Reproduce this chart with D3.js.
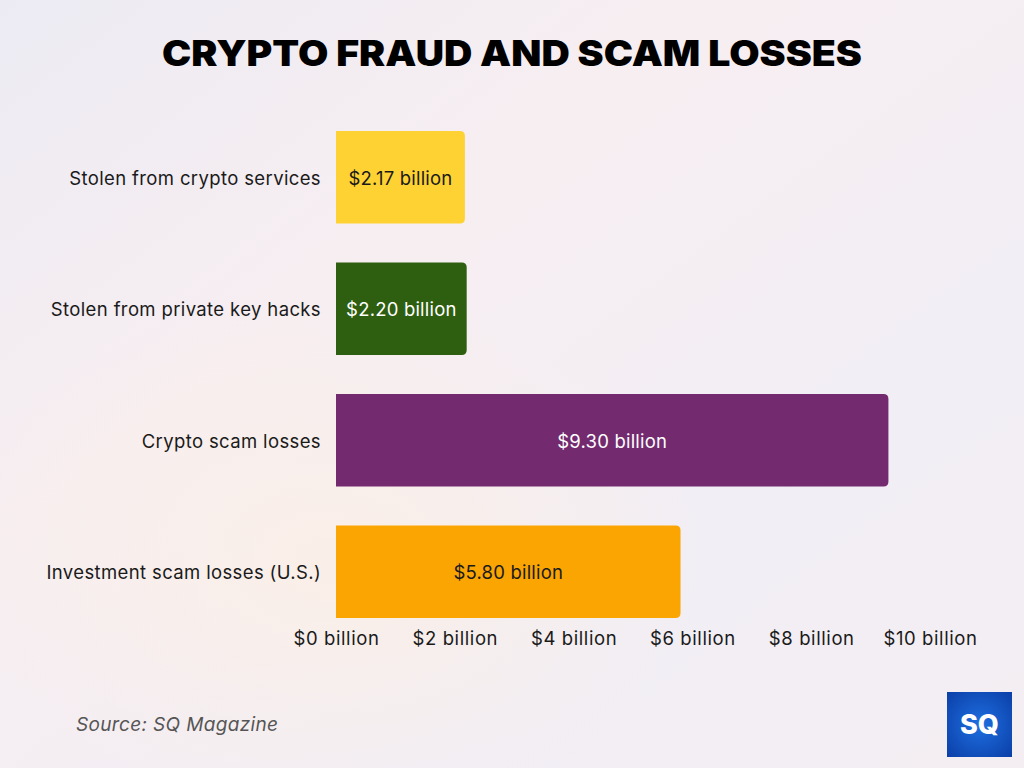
<!DOCTYPE html>
<html><head><meta charset="utf-8">
<script src="https://cdn.jsdelivr.net/npm/d3@7"></script>
<style>html,body{margin:0;padding:0;}svg{display:block;}</style>
</head><body>
<script>
const categories = ["Stolen from crypto services","Stolen from private key hacks","Crypto scam losses","Investment scam losses (U.S.)"];
const values = [2.17, 2.20, 9.30, 5.80];
const valueLabels = ["$2.17 billion","$2.20 billion","$9.30 billion","$5.80 billion"];
const colors = ["#FFD233","#2E5E10","#732A6E","#FBA502"];
const labelColors = ["#1a1a1a","#ffffff","#ffffff","#1a1a1a"];
const tickValues = [0,2,4,6,8,10];
const tickLabels = ["$0 billion","$2 billion","$4 billion","$6 billion","$8 billion","$10 billion"];

const W=1024,H=768;
const svg=d3.select("body").append("svg").attr("width",W).attr("height",H);
const defs=svg.append("defs");
const bg=defs.append("linearGradient").attr("id","bg").attr("x1","0").attr("y1","0").attr("x2","1").attr("y2","1");
bg.append("stop").attr("offset","0").attr("stop-color","#ECEBF3");
bg.append("stop").attr("offset","0.35").attr("stop-color","#F7EEF1");
bg.append("stop").attr("offset","0.7").attr("stop-color","#F1EEF5");
bg.append("stop").attr("offset","1").attr("stop-color","#F4EEF2");
svg.append("rect").attr("width",W).attr("height",H).attr("fill","url(#bg)");
const rg=defs.append("radialGradient").attr("id","peach").attr("cx","0.5").attr("cy","0.5").attr("r","0.5");
rg.append("stop").attr("offset","0").attr("stop-color","#FBEFE6").attr("stop-opacity",0.9);
rg.append("stop").attr("offset","1").attr("stop-color","#FBEFE6").attr("stop-opacity",0);
svg.append("ellipse").attr("cx",330).attr("cy",560).attr("rx",380).attr("ry",260).attr("fill","url(#peach)");

svg.append("text").attr("x",512).attr("y",66).attr("text-anchor","middle")
  .attr("font-family","Inter, Roboto, sans-serif").attr("font-weight",900).attr("font-size",35)
  .attr("fill","#000").attr("textLength",700).attr("lengthAdjust","spacingAndGlyphs")
  .text("CRYPTO FRAUD AND SCAM LOSSES");

const x=d3.scaleLinear().domain([0,10]).range([336,930]);
const y=d3.scaleBand().domain(categories).range([131,618]).paddingInner(39/132).paddingOuter(0);

const font="Inter, 'Open Sans', sans-serif";
const fs=18.5, ls="0.37px";
const r=5;
function barPath(x0,x1,y0,h){
  const rr=Math.min(r,(x1-x0));
  return `M${x0},${y0}H${x1-rr}Q${x1},${y0} ${x1},${y0+rr}V${y0+h-rr}Q${x1},${y0+h} ${x1-rr},${y0+h}H${x0}Z`;
}
const g=svg.append("g");
g.selectAll("path.bar").data(categories).join("path").attr("class","bar")
  .attr("d",(d,i)=>barPath(x(0),x(values[i]),y(d),y.bandwidth()))
  .attr("fill",(d,i)=>colors[i]);
g.selectAll("text.val").data(categories).join("text").attr("class","val")
  .attr("x",(d,i)=>(x(0)+x(values[i]))/2).attr("y",d=>y(d)+y.bandwidth()/2+1)
  .attr("dy","0.35em").attr("text-anchor","middle")
  .attr("font-family",font).attr("font-size",fs).attr("letter-spacing","0.2px").attr("fill",(d,i)=>labelColors[i])
  .text((d,i)=>valueLabels[i]);
g.selectAll("text.cat").data(categories).join("text").attr("class","cat")
  .attr("x",321).attr("y",d=>y(d)+y.bandwidth()/2+1)
  .attr("dy","0.35em").attr("text-anchor","end")
  .attr("font-family",font).attr("font-size",fs).attr("letter-spacing",ls).attr("fill","#1a1a1a")
  .text(d=>d);

const axis=d3.axisBottom(x).tickValues(tickValues).tickFormat((d,i)=>tickLabels[i]).tickSize(0).tickPadding(0);
const ax=svg.append("g").attr("transform","translate(0,632)").call(axis);
ax.select(".domain").remove();
ax.selectAll("text").attr("font-family",font).attr("font-size",fs).attr("letter-spacing","0.6px").attr("fill","#1a1a1a").attr("dy","0.71em");

svg.append("text").attr("x",76).attr("y",731).attr("font-family",font).attr("font-style","italic")
  .attr("font-size",19).attr("letter-spacing","0.35px").attr("fill","#555").text("Source: SQ Magazine");

const lg=defs.append("radialGradient").attr("id","logo").attr("cx","0.5").attr("cy","0.5").attr("r","0.7");
lg.append("stop").attr("offset","0").attr("stop-color","#1E6FE0");
lg.append("stop").attr("offset","1").attr("stop-color","#0B3FA8");
svg.append("rect").attr("x",947).attr("y",692).attr("width",65).attr("height",65).attr("fill","url(#logo)");
svg.append("text").attr("x",979.5).attr("y",734).attr("text-anchor","middle")
  .attr("font-family","Inter, sans-serif").attr("font-weight",800).attr("font-size",27)
  .attr("fill","#fff").text("SQ");
</script>
</body></html>
